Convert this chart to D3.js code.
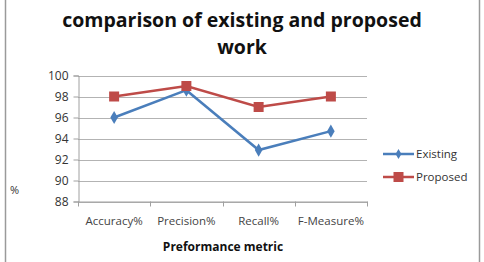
<!DOCTYPE html>
<html><head><meta charset="utf-8">
<script src="https://cdn.jsdelivr.net/npm/d3@7"></script>
<style>body{margin:0;background:#fff}svg{display:block}</style>
</head><body>
<svg id="c" width="484" height="262"></svg>
<script>
const categories = ["Accuracy%", "Precision%", "Recall%", "F-Measure%"];
const existing = [96, 98.6, 92.9, 94.7];
const proposed = [98, 99, 97, 98];
const yTicks = [88, 90, 92, 94, 96, 98, 100];
const seriesNames = ["Existing", "Proposed"];
const colors = ["#4a7ebb", "#be4b48"];

const svg = d3.select("#c");
const W = 484, H = 262;
svg.append("rect").attr("width", W).attr("height", H).attr("fill", "#fff");
svg.append("line").attr("x1", 5.5).attr("x2", 5.5).attr("y1", 0).attr("y2", H).attr("stroke", "#9a9a9a").attr("stroke-width", 1.5);
svg.append("line").attr("x1", 479.5).attr("x2", 479.5).attr("y1", 0).attr("y2", H).attr("stroke", "#9a9a9a").attr("stroke-width", 1.5);

const x = d3.scaleBand().domain(categories).range([78, 367]).padding(0);
const y = d3.scaleLinear().domain([88, 100]).range([201.5, 75.5]);

svg.append("g").selectAll("line").data(yTicks).join("line")
  .attr("x1", 78).attr("x2", 367)
  .attr("y1", d => Math.round(y(d)) + 0.5).attr("y2", d => Math.round(y(d)) + 0.5)
  .attr("stroke", "#b3b3b3").attr("stroke-width", 1);

const yAxis = svg.append("g").attr("transform", "translate(78.5,0)")
  .call(d3.axisLeft(y).tickValues(yTicks).tickSize(5).tickPadding(5).tickFormat(d3.format("d")));
yAxis.select(".domain").attr("stroke", "#a0a0a0");
yAxis.selectAll(".tick line").attr("stroke", "#a0a0a0");
yAxis.selectAll("text").attr("font-family", "Open Sans, sans-serif").attr("font-size", 12).attr("fill", "#333");

const xAxis = svg.append("g").attr("transform", "translate(0,201.5)")
  .call(d3.axisBottom(x).tickSize(0).tickPadding(15));
xAxis.select(".domain").attr("stroke", "#a0a0a0");
xAxis.selectAll("text").attr("font-family", "Open Sans, sans-serif").attr("font-size", 11.5).attr("fill", "#444");
const bounds = categories.map(c => x(c)).concat([x(categories[categories.length-1]) + x.bandwidth()]);
svg.append("g").selectAll("line").data(bounds).join("line")
  .attr("x1", d => Math.round(d) + 0.5).attr("x2", d => Math.round(d) + 0.5)
  .attr("y1", 201.5).attr("y2", 206.5).attr("stroke", "#a0a0a0");

const cx = c => x(c) + x.bandwidth() / 2;
const line = d3.line().x((d, i) => cx(categories[i])).y(d => y(d));

svg.append("path").datum(existing).attr("d", line).attr("fill", "none").attr("stroke", colors[0]).attr("stroke-width", 2.5);
svg.append("g").selectAll("path").data(existing).join("path")
  .attr("d", d3.symbol(d3.symbolDiamond, 50))
  .attr("transform", (d, i) => `translate(${cx(categories[i])},${y(d)})`)
  .attr("fill", colors[0]);
svg.append("path").datum(proposed).attr("d", line).attr("fill", "none").attr("stroke", colors[1]).attr("stroke-width", 2.5);
svg.append("g").selectAll("rect").data(proposed).join("rect")
  .attr("x", (d, i) => cx(categories[i]) - 5).attr("y", d => y(d) - 5)
  .attr("width", 10).attr("height", 10).attr("fill", colors[1]);

const title = svg.append("text").attr("text-anchor", "middle").attr("font-family", "Open Sans, sans-serif")
  .attr("font-weight", "bold").attr("font-size", 19.5).attr("fill", "#111");
title.append("tspan").attr("x", 242).attr("y", 27).text("comparison of existing and proposed");
title.append("tspan").attr("x", 242).attr("y", 54).text("work");

svg.append("text").attr("x", 223).attr("y", 251).attr("text-anchor", "middle")
  .attr("font-family", "Open Sans, sans-serif").attr("font-weight", "bold").attr("font-size", 12).attr("fill", "#111")
  .text("Preformance metric");
svg.append("text").attr("x", 10).attr("y", 194)
  .attr("font-family", "Open Sans, sans-serif").attr("font-size", 11).attr("fill", "#333")
  .text("%");

const lg = svg.append("g").selectAll("g").data(seriesNames).join("g")
  .attr("transform", (d, i) => `translate(383,${154 + i * 23})`);
lg.append("line").attr("x1", 0).attr("x2", 31).attr("stroke", (d, i) => colors[i]).attr("stroke-width", 2.5);
lg.filter((d, i) => i === 0).append("path").attr("d", d3.symbol(d3.symbolDiamond, 30)).attr("transform", "translate(15.5,0)").attr("fill", colors[0]);
lg.filter((d, i) => i === 1).append("rect").attr("x", 10.5).attr("y", -5).attr("width", 10).attr("height", 10).attr("fill", colors[1]);
lg.append("text").attr("x", 33).attr("y", 4).attr("font-family", "Open Sans, sans-serif").attr("font-size", 11.5).attr("fill", "#333")
  .text(d => d);
</script>
</body></html>
